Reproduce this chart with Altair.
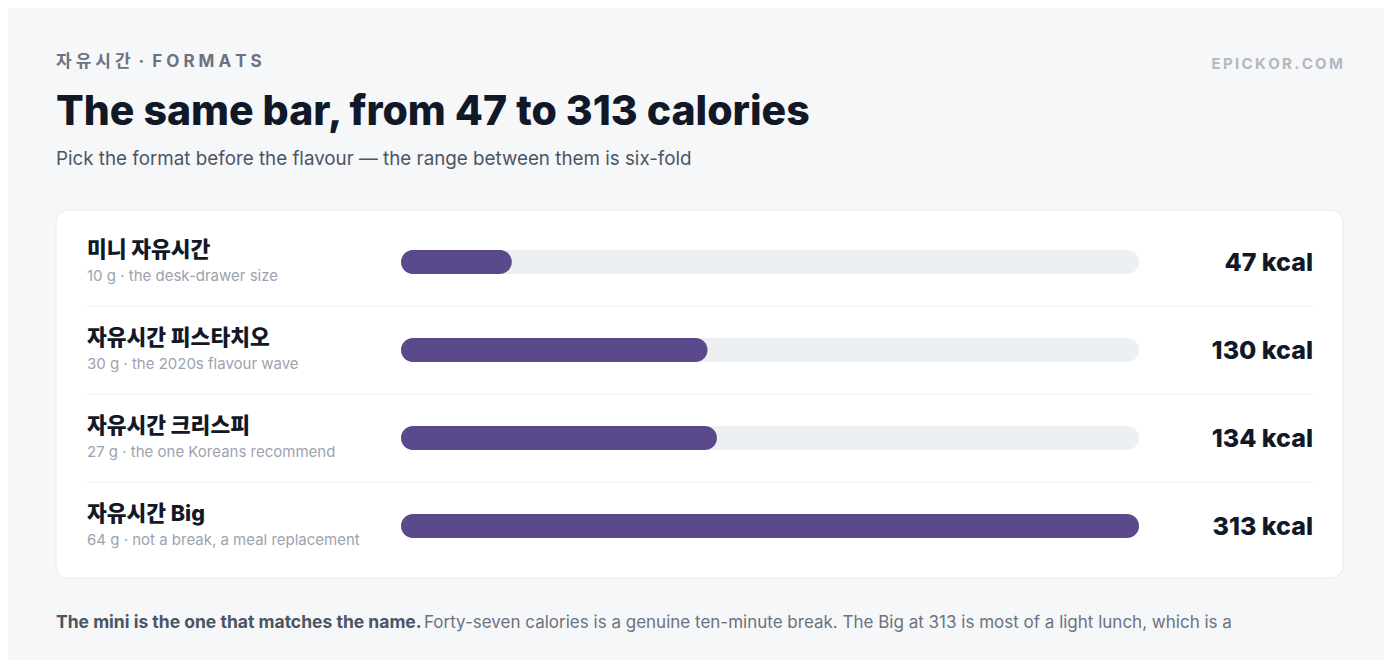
import altair as alt
import pandas as pd

# ---- data ----
names = ["미니 자유시간", "자유시간 피스타치오", "자유시간 크리스피", "자유시간 Big"]
subs = [
    "10 g · the desk-drawer size",
    "30 g · the 2020s flavour wave",
    "27 g · the one Koreans recommend",
    "64 g · not a break, a meal replacement",
]
kcal = [47, 130, 134, 313]

SP = "\u2009\u200a"
eyebrow = SP.join("자유시간") + SP + "\u00a0·\u00a0" + SP + SP.join("FORMATS")
brand = "\u2009".join("EPICKOR.COM")
title = "The same bar, from 47 to 313 calories"
subtitle = "Pick the format before the flavour — the range between them is six-fold"
foot_bold = "The mini is the one that matches the name."
foot_text = "Forty-seven calories is a genuine ten-minute break. The Big at 313 is most of a light lunch, which is a"

FONT = "Inter, 'Noto Sans CJK KR', sans-serif"
W, H = 1376, 660
BG = "#f6f7f9"
PURPLE = "#5b4a8b"
TRACK = "#edf0f3"

df = pd.DataFrame({
    "name": names,
    "sub": subs,
    "kcal": kcal,
    "label": [f"{k} kcal" for k in kcal],
    "kmax": [max(kcal)] * len(kcal),
    "idx": list(range(len(names))),
})

yenc = alt.Y("name:N", sort=names, axis=None,
             scale=alt.Scale(type="point", domain=names, range=[254, 518], padding=0))
xscale = alt.Scale(domain=[0, max(kcal)], range=[393, 1131], zero=True, nice=False)

base = alt.Chart(df)

card = alt.Chart(pd.DataFrame({"c": [0]})).mark_rect(
    fill="white", stroke="#e6e8ec", strokeWidth=1, cornerRadius=12
).encode(x=alt.value(48), x2=alt.value(1335), y=alt.value(202), y2=alt.value(570))

seps = base.transform_filter("datum.idx < 3").mark_rule(
    color="#f0f1f4", strokeWidth=1, yOffset=44
).encode(y=yenc, x=alt.value(79), x2=alt.value(1305))

track = base.mark_bar(color=TRACK, size=24, cornerRadius=12).encode(
    y=yenc, x=alt.X("kmax:Q", scale=xscale, axis=None, stack=None), x2=alt.datum(0)
)
bar = base.mark_bar(color=PURPLE, size=24, cornerRadius=12).encode(
    y=yenc, x=alt.X("kcal:Q", scale=xscale, axis=None, stack=None), x2=alt.datum(0)
)

name_t = base.mark_text(align="left", baseline="middle", dy=-11, font=FONT,
                        fontSize=21.5, fontWeight=800, color="#111827").encode(
    y=yenc, x=alt.value(79), text="name:N")
sub_t = base.mark_text(align="left", baseline="middle", dy=14, font=FONT,
                       fontSize=15, color="#9ca3af").encode(
    y=yenc, x=alt.value(79), text="sub:N")
val_t = base.mark_text(align="right", baseline="middle", dy=1, font=FONT,
                       fontSize=25, fontWeight=800, color="#111827").encode(
    y=yenc, x=alt.value(1305), text="label:N")


def txt(s, x, y, size, weight, color, align="left"):
    return alt.Chart(pd.DataFrame({"t": [s]})).mark_text(
        align=align, baseline="middle", font=FONT, fontSize=size,
        fontWeight=weight, color=color
    ).encode(x=alt.value(x), y=alt.value(y), text="t:N")


hdr = [
    txt(eyebrow, 48, 54, 17, 700, "#6b7280"),
    txt(brand, 1335, 56, 15, 700, "#b3b8c0", align="right"),
    txt(title, 48, 105, 41, 800, "#111827"),
    txt(subtitle, 48, 151, 18.8, 400, "#4b5563"),
    txt(foot_bold, 48, 615, 17.5, 700, "#4b5563"),
    txt(foot_text, 416, 615, 17, 400, "#6b7280"),
]

chart = alt.layer(card, seps, track, bar, name_t, sub_t, val_t, *hdr).properties(
    width=W, height=H, background=BG, padding=0,
    autosize=alt.AutoSizeParams(type="none"),
).configure_view(stroke=None)

chart.save("out.html", embed_options={"renderer": "svg", "actions": False})
